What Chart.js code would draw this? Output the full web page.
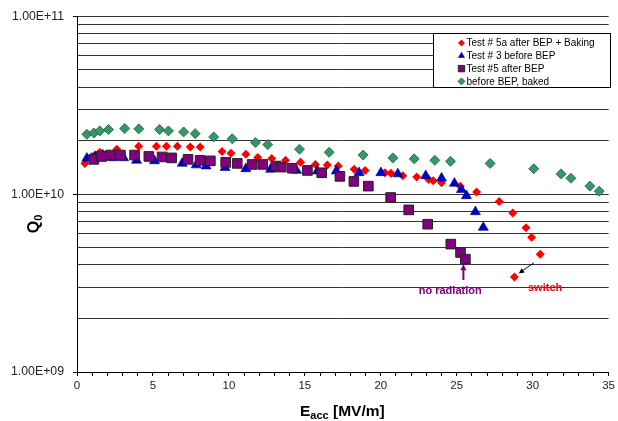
<!DOCTYPE html>
<html>
<head>
<meta charset="utf-8">
<script src="https://cdn.jsdelivr.net/npm/chart.js@4.4.1/dist/chart.umd.min.js"></script>
<style>
html, body { margin: 0; padding: 0; background: #fff; }
canvas { display: block; }
</style>
</head>
<body>
<canvas id="myChart" width="618" height="421"></canvas>
<script>
// Q values are given in units of 1e10
var UNIT = 1e10;

var seriesNames = ['Test # 5a after BEP + Baking', 'Test # 3 before BEP', 'Test #5 after BEP', 'before BEP, baked'];

var eTest5a = [0.52,0.98,1.50,2.62,4.06,5.23,5.89,6.61,7.46,8.11,9.55,10.14,11.12,11.90,12.82,13.73,14.72,15.70,16.48,17.20,18.25,18.97,20.28,20.67,21.45,22.37,23.15,23.45,24.0,25.23,26.31,27.80,28.69,29.56,29.93,30.50,28.80];
var qTest5a = [1.49,1.63,1.72,1.79,1.86,1.86,1.86,1.86,1.84,1.84,1.74,1.70,1.68,1.61,1.59,1.55,1.51,1.47,1.46,1.44,1.38,1.36,1.32,1.31,1.27,1.25,1.21,1.19,1.16,1.11,1.03,0.91,0.785,0.647,0.573,0.46,0.342];

var eTest3 = [0.65,1.18,1.70,2.35,3.07,3.92,5.10,6.93,7.85,8.50,9.75,11.12,12.75,14.45,15.83,17.07,18.57,20.01,21.12,22.96,24.0,24.85,25.31,25.64,26.23,26.75];
var qTest3 = [1.59,1.63,1.66,1.60,1.60,1.55,1.54,1.49,1.46,1.44,1.41,1.39,1.38,1.36,1.35,1.35,1.32,1.32,1.30,1.27,1.23,1.15,1.06,0.98,0.796,0.65];

var eTest5 = [1.11,1.62,2.20,2.86,3.79,4.73,5.60,6.23,7.31,8.11,8.78,9.79,10.55,11.53,12.23,13.10,13.45,14.17,15.17,16.11,17.31,18.23,19.18,20.65,21.84,23.09,24.61,25.25,25.57];
var qTest5 = [1.57,1.63,1.66,1.66,1.66,1.63,1.62,1.60,1.57,1.55,1.54,1.51,1.49,1.47,1.47,1.44,1.42,1.40,1.36,1.32,1.26,1.18,1.11,0.958,0.816,0.678,0.524,0.470,0.431];

var eBaked = [0.65,1.11,1.50,2.07,3.14,4.07,5.43,6.02,7.02,7.78,9.0,10.22,11.75,12.56,14.65,16.6,18.84,20.8,22.2,23.56,24.59,27.2,30.07,31.87,32.52,33.77,34.38];
var qBaked = [2.17,2.21,2.27,2.31,2.34,2.33,2.31,2.27,2.24,2.19,2.10,2.05,1.95,1.90,1.79,1.72,1.66,1.60,1.58,1.55,1.53,1.49,1.39,1.30,1.23,1.11,1.04];

var yMajorTicks = [1e9, 1e10, 1e11];

function toPoints(es, qs) {
    return es.map(function(e, i) {
        return { x: e, y: qs[i] * UNIT };
    });
}

var datasets = [
    { label: seriesNames[0], data: toPoints(eTest5a, qTest5a), pointStyle: 'rectRot', pointRadius: 4.5,
      backgroundColor: '#ff0000', borderColor: '#ff0000', pointBorderWidth: 0, order: 4 },
    { label: seriesNames[1], data: toPoints(eTest3, qTest3), pointStyle: 'triangle', pointRadius: 5.8,
      backgroundColor: '#0000cc', borderColor: '#000066', pointBorderWidth: 0.6, order: 3 },
    { label: seriesNames[2], data: toPoints(eTest5, qTest5), pointStyle: 'rect', pointRadius: 6.8,
      backgroundColor: '#800080', borderColor: '#222222', pointBorderWidth: 1, order: 2 },
    { label: seriesNames[3], data: toPoints(eBaked, qBaked), pointStyle: 'rectRot', pointRadius: 5,
      backgroundColor: '#339966', borderColor: '#1d5c3c', pointBorderWidth: 0.8, order: 1 }
];

function arrow(ctx, x1, y1, x2, y2, color, width, head) {
    var a = Math.atan2(y2 - y1, x2 - x1);
    ctx.save();
    ctx.strokeStyle = color;
    ctx.fillStyle = color;
    ctx.lineWidth = width;
    ctx.beginPath();
    ctx.moveTo(x1, y1);
    ctx.lineTo(x2 - Math.cos(a) * head * 0.8, y2 - Math.sin(a) * head * 0.8);
    ctx.stroke();
    ctx.beginPath();
    ctx.moveTo(x2, y2);
    ctx.lineTo(x2 - head * Math.cos(a - 0.45), y2 - head * Math.sin(a - 0.45));
    ctx.lineTo(x2 - head * Math.cos(a + 0.45), y2 - head * Math.sin(a + 0.45));
    ctx.closePath();
    ctx.fill();
    ctx.restore();
}

var FONT = '"Liberation Sans", Arial, sans-serif';

var overlay = {
    id: 'overlay',
    afterDraw: function(chart) {
        var ctx = chart.ctx, xs = chart.scales.x, ys = chart.scales.y;

        // annotations
        arrow(ctx, xs.getPixelForValue(25.44), ys.getPixelForValue(3.29e9),
              xs.getPixelForValue(25.44), ys.getPixelForValue(4.05e9), '#800080', 2, 7);
        arrow(ctx, xs.getPixelForValue(30.07), ys.getPixelForValue(4.11e9),
              xs.getPixelForValue(29.08), ys.getPixelForValue(3.58e9), '#000000', 1, 6);
        ctx.save();
        ctx.textAlign = 'center';
        ctx.textBaseline = 'middle';
        ctx.font = 'bold 11px ' + FONT;
        ctx.fillStyle = '#800080';
        ctx.fillText('no radiation', xs.getPixelForValue(24.57), ys.getPixelForValue(2.87e9));
        ctx.fillStyle = '#ff0000';
        ctx.fillText('switch', xs.getPixelForValue(30.82), ys.getPixelForValue(2.95e9));
        ctx.restore();

        // legend box
        var lx = 433.5, ly = 33.5, lw = 177, lh = 54;
        ctx.save();
        ctx.fillStyle = '#ffffff';
        ctx.strokeStyle = '#000000';
        ctx.lineWidth = 1;
        ctx.fillRect(lx, ly, lw, lh);
        ctx.strokeRect(lx, ly, lw, lh);
        ctx.font = '10px ' + FONT;
        ctx.textBaseline = 'middle';
        chart.data.datasets.forEach(function(ds, i) {
            var yy = ly + 9.5 + i * 12.8;
            ctx.fillStyle = ds.backgroundColor;
            ctx.strokeStyle = ds.borderColor;
            ctx.lineWidth = ds.pointBorderWidth;
            Chart.helpers.drawPoint(ctx, { pointStyle: ds.pointStyle, radius: ds.pointStyle === 'rect' ? 4.5 : 3.5,
                borderWidth: ds.pointBorderWidth, rotation: 0 }, lx + 28, yy);
            ctx.fillStyle = '#000000';
            ctx.fillText(ds.label, lx + 33, yy + 0.5);
        });
        ctx.restore();

        // axis titles with subscripts
        ctx.save();
        ctx.fillStyle = '#000000';
        ctx.textBaseline = 'alphabetic';
        var sx = 300, by = 416;
        ctx.font = 'bold 15.5px ' + FONT;
        var w1 = ctx.measureText('E').width;
        ctx.fillText('E', sx, by);
        ctx.font = 'bold 11px ' + FONT;
        var w2 = ctx.measureText('acc').width;
        ctx.fillText('acc', sx + w1, by + 3);
        ctx.font = 'bold 15.5px ' + FONT;
        ctx.fillText(' [MV/m]', sx + w1 + w2, by);

        ctx.translate(39, 224);
        ctx.rotate(-Math.PI / 2);
        ctx.font = 'bold 16px ' + FONT;
        var qw = ctx.measureText('Q').width;
        ctx.fillText('Q', -qw / 2 - 3, 0);
        ctx.font = 'bold 11px ' + FONT;
        ctx.fillText('0', qw / 2 - 3, 3);
        ctx.restore();
    }
};

var yTicks = [];
for (var d = 9; d <= 10; d++) {
    for (var m = 1; m <= 9; m++) yTicks.push(m * Math.pow(10, d));
}
yTicks.push(1e11);

var myChart = new Chart(document.getElementById('myChart'), {
    type: 'scatter',
    data: { datasets: datasets },
    options: {
        responsive: false,
        animation: false,
        devicePixelRatio: 1,
        layout: { padding: { left: 0, top: 16, right: 5, bottom: 0 } },
        plugins: { legend: { display: false }, tooltip: { enabled: false } },
        scales: {
            x: {
                type: 'linear', min: 0, max: 35,
                afterFit: function(scale) { scale.height = 49; },
                border: { display: true, color: '#000000', width: 1 },
                grid: { drawOnChartArea: false, drawTicks: true, tickLength: 4, tickColor: '#000000' },
                ticks: {
                    stepSize: 1, autoSkip: false, maxRotation: 0, padding: 3, color: '#222222',
                    font: { family: FONT, size: 11.5 },
                    callback: function(v) { return v % 5 === 0 ? String(v) : ''; }
                }
            },
            y: {
                type: 'logarithmic', min: 1e9, max: 1e11,
                afterFit: function(scale) { scale.width = 77; },
                afterBuildTicks: function(scale) {
                    scale.ticks = yTicks.map(function(v) { return { value: v }; });
                },
                border: { display: true, color: '#000000', width: 1 },
                grid: {
                    color: '#333333', lineWidth: 1, tickLength: 4,
                    tickColor: function(c) {
                        return c.tick && yMajorTicks.indexOf(c.tick.value) >= 0 ? '#000000' : 'rgba(0,0,0,0)';
                    }
                },
                ticks: {
                    autoSkip: false, padding: 9, color: '#222222',
                    font: { family: FONT, size: 12.3 },
                    callback: function(v) {
                        if (yMajorTicks.indexOf(v) < 0) return '';
                        return '1.00E+' + String(Math.round(Math.log10(v))).padStart(2, '0');
                    }
                }
            }
        }
    },
    plugins: [overlay]
});
</script>
</body>
</html>
